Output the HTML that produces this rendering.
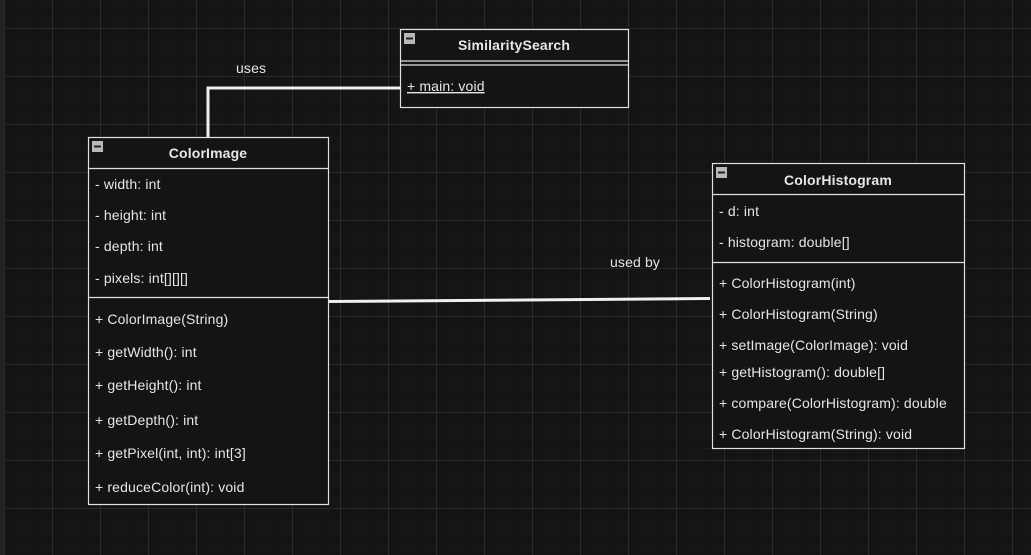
<!DOCTYPE html>
<html><head><meta charset="utf-8"><style>
html,body{margin:0;padding:0;background:#141414;}
svg{display:block;}
text{font-family:"Liberation Sans",sans-serif;font-size:14px;letter-spacing:0.15px;fill:#e6e6e6;}
.b{font-weight:bold;}
</style></head><body>
<svg width="1031" height="555" viewBox="0 0 1031 555" xmlns="http://www.w3.org/2000/svg">
<defs>
<pattern id="mi" width="12" height="12" patternUnits="userSpaceOnUse" x="4" y="4">
<path d="M0 0H12M0 0V12" stroke="#1b1b1b" stroke-width="1" fill="none"/>
</pattern>
<pattern id="ma" width="48" height="48" patternUnits="userSpaceOnUse" x="4" y="28">
<path d="M0 0.5H48M0.5 0V48" stroke="#2a2a2a" stroke-width="1" fill="none"/>
</pattern>
</defs>
<rect width="1031" height="555" fill="#141414"/>
<rect width="1031" height="555" fill="url(#mi)"/>
<rect width="1031" height="555" fill="url(#ma)"/>
<rect x="0" y="0" width="4" height="555" fill="#222"/>

<polyline points="208,137 208,88 400,88" fill="none" stroke="#f0f0f0" stroke-width="3"/>
<line x1="328" y1="301.5" x2="710" y2="298.5" stroke="#f0f0f0" stroke-width="3"/>
<text x="236" y="73">uses</text>
<text x="610" y="267">used by</text>

<g stroke="#e0e0e0" stroke-width="1.2" fill="#141414">
<rect x="400.5" y="29.5" width="228" height="78"/>
<line x1="400" y1="61" x2="628" y2="61"/>
<line x1="400" y1="65" x2="628" y2="65"/>
</g>
<rect x="404" y="33" width="11" height="11" fill="#b8b8b8"/><rect x="406" y="37.5" width="7" height="2" fill="#222"/>
<text x="514" y="50" text-anchor="middle" class="b">SimilaritySearch</text>
<text x="407" y="91" text-decoration="underline">+ main: void</text>

<g stroke="#e0e0e0" stroke-width="1.2" fill="#141414">
<rect x="88.5" y="137.5" width="240" height="367"/>
<line x1="88" y1="168.5" x2="328" y2="168.5"/>
<line x1="88" y1="297.5" x2="328" y2="297.5"/>
</g>
<rect x="92" y="141" width="11" height="11" fill="#b8b8b8"/><rect x="94" y="145.5" width="7" height="2" fill="#222"/>
<text x="208" y="158" text-anchor="middle" class="b">ColorImage</text>
<text x="95" y="189">- width: int</text>
<text x="95" y="220">- height: int</text>
<text x="95" y="251">- depth: int</text>
<text x="95" y="283">- pixels: int[][][]</text>
<text x="95" y="324">+ ColorImage(String)</text>
<text x="95" y="357">+ getWidth(): int</text>
<text x="95" y="390">+ getHeight(): int</text>
<text x="95" y="425">+ getDepth(): int</text>
<text x="95" y="458">+ getPixel(int, int): int[3]</text>
<text x="95" y="492">+ reduceColor(int): void</text>

<g stroke="#e0e0e0" stroke-width="1.2" fill="#141414">
<rect x="712.5" y="163.5" width="252" height="285"/>
<line x1="712" y1="194.5" x2="964" y2="194.5"/>
<line x1="712" y1="262.5" x2="964" y2="262.5"/>
</g>
<rect x="716" y="167" width="11" height="11" fill="#b8b8b8"/><rect x="718" y="171.5" width="7" height="2" fill="#222"/>
<text x="838" y="185" text-anchor="middle" class="b">ColorHistogram</text>
<text x="719" y="216">- d: int</text>
<text x="719" y="247">- histogram: double[]</text>
<text x="719" y="288">+ ColorHistogram(int)</text>
<text x="719" y="319">+ ColorHistogram(String)</text>
<text x="719" y="350">+ setImage(ColorImage): void</text>
<text x="719" y="377">+ getHistogram(): double[]</text>
<text x="719" y="408">+ compare(ColorHistogram): double</text>
<text x="719" y="439">+ ColorHistogram(String): void</text>
</svg>
</body></html>
